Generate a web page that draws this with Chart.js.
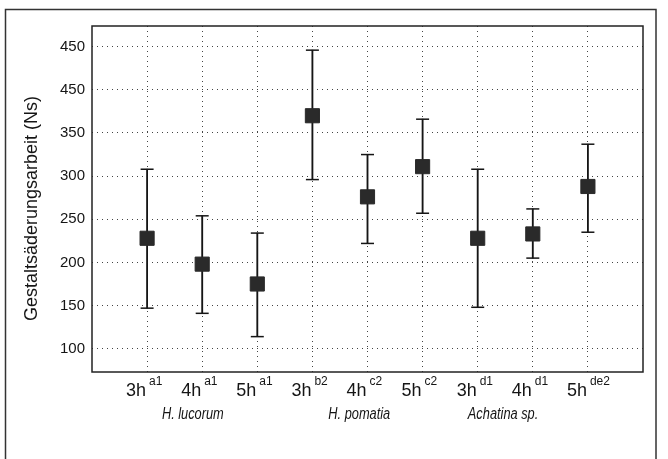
<!DOCTYPE html>
<html>
<head>
<meta charset="utf-8">
<script src="https://cdn.jsdelivr.net/npm/chart.js@4/dist/chart.umd.min.js"></script>
<style>
  body { margin: 0; background: #fff; }
  canvas { display: block; }
</style>
</head>
<body>
<canvas id="chart" width="668" height="459"></canvas>
<script>
var categories = ['3h', '4h', '5h', '3h', '4h', '5h', '3h', '4h', '5h'],
    superscripts = ['a1', 'a1', 'a1', 'b2', 'c2', 'c2', 'd1', 'd1', 'de2'],
    means = [228, 198, 175, 370, 276, 311, 228, 233, 288],
    upper = [308, 254, 234, 446, 325, 366, 308, 262, 337],
    lower = [147, 141, 114, 296, 222, 257, 148, 205, 235],
    groupNames = ['H. lucorum', 'H. pomatia', 'Achatina sp.'],
    groupCenters = [1.83, 4.85, 7.46],
    tickValues = [100, 150, 200, 250, 300, 350, 400, 450],
    tickLabels = ['100', '150', '200', '250', '300', '350', '450', '450'],
    yTitle = 'Gestaltsäderungsarbeit (Ns)';

var FONT = '"Liberation Sans", Arial, sans-serif',
    INK = '#151515';

function points(vals) {
    return vals.map(function (v, i) { return {x: i + 1, y: v}; });
}

var decor = {
    id: 'decor',
    beforeDraw: function (chart) {
        var ctx = chart.ctx;
        ctx.save();
        ctx.fillStyle = '#fff';
        ctx.fillRect(0, 0, chart.width, chart.height);
        ctx.restore();
    },
    afterDraw: function (chart) {
        var ctx = chart.ctx,
            a = chart.chartArea,
            xs = chart.scales.x;
        ctx.save();

        // outer frame
        ctx.strokeStyle = '#333';
        ctx.lineWidth = 1.5;
        ctx.strokeRect(5.5, 9.5, 650.5, 470);

        // plot frame
        ctx.strokeStyle = '#222';
        ctx.lineWidth = 1.5;
        ctx.strokeRect(a.left, a.top, a.right - a.left, a.bottom - a.top);

        // category labels with superscripts
        ctx.fillStyle = INK;
        ctx.textBaseline = 'alphabetic';
        categories.forEach(function (c, i) {
            var px = xs.getPixelForValue(i + 1);
            ctx.font = '18px ' + FONT;
            ctx.textAlign = 'right';
            ctx.fillText(c, px - 1, 396);
            ctx.font = '12px ' + FONT;
            ctx.textAlign = 'left';
            ctx.fillText(superscripts[i], px + 2, 385);
        });

        // species labels, squeezed a little like the narrow face of the original
        ctx.font = 'italic 16px ' + FONT;
        ctx.textAlign = 'center';
        groupNames.forEach(function (g, i) {
            ctx.save();
            ctx.translate(xs.getPixelForValue(groupCenters[i]), 419);
            ctx.scale(0.8, 1);
            ctx.fillText(g, 0, 0);
            ctx.restore();
        });

        // y axis title
        ctx.translate(36.5, 208.5);
        ctx.rotate(-Math.PI / 2);
        ctx.font = '18px ' + FONT;
        ctx.textAlign = 'center';
        ctx.fillText(yTitle, 0, 0);
        ctx.restore();
    }
};

var chart = new Chart(document.getElementById('chart').getContext('2d'), {
    type: 'scatter',
    data: {
        datasets: [
            {
                type: 'scatter',
                data: points(means),
                pointStyle: 'rect',
                radius: 10,
                backgroundColor: '#2a2a2a',
                borderColor: '#2a2a2a',
                borderWidth: 1,
                order: 0
            },
            {
                type: 'scatter',
                data: points(upper).concat(points(lower)),
                pointStyle: 'line',
                radius: 6.5,
                borderColor: INK,
                borderWidth: 1.5,
                order: 1
            },
            {
                type: 'bar',
                data: lower.map(function (lo, i) { return {x: i + 1, y: [lo, upper[i]]}; }),
                barThickness: 1.2,
                backgroundColor: INK,
                borderWidth: 0,
                order: 2
            }
        ]
    },
    options: {
        responsive: false,
        animation: false,
        events: [],
        layout: {padding: {left: 0, top: 26, right: 25, bottom: 87}},
        plugins: {legend: {display: false}, tooltip: {enabled: false}},
        scales: {
            x: {
                type: 'linear',
                min: 0,
                max: 10,
                offset: false,
                afterBuildTicks: function (s) {
                    s.ticks = categories.map(function (c, i) { return {value: i + 1}; });
                },
                afterFit: function (s) { s.height = 0; },
                ticks: {display: false},
                grid: {color: '#444', lineWidth: 1, drawTicks: false, offset: false},
                border: {display: false, dash: [1, 4]}
            },
            y: {
                type: 'linear',
                min: 73,
                max: 474,
                afterBuildTicks: function (s) {
                    s.ticks = tickValues.map(function (v) { return {value: v}; });
                },
                afterFit: function (s) { s.width = 92; },
                ticks: {
                    padding: 7,
                    color: INK,
                    font: {family: FONT, size: 15},
                    callback: function (v, i) { return tickLabels[i]; }
                },
                grid: {color: '#444', lineWidth: 1, drawTicks: false},
                border: {display: false, dash: [1, 4]}
            }
        }
    },
    plugins: [decor]
});
</script>
</body>
</html>
